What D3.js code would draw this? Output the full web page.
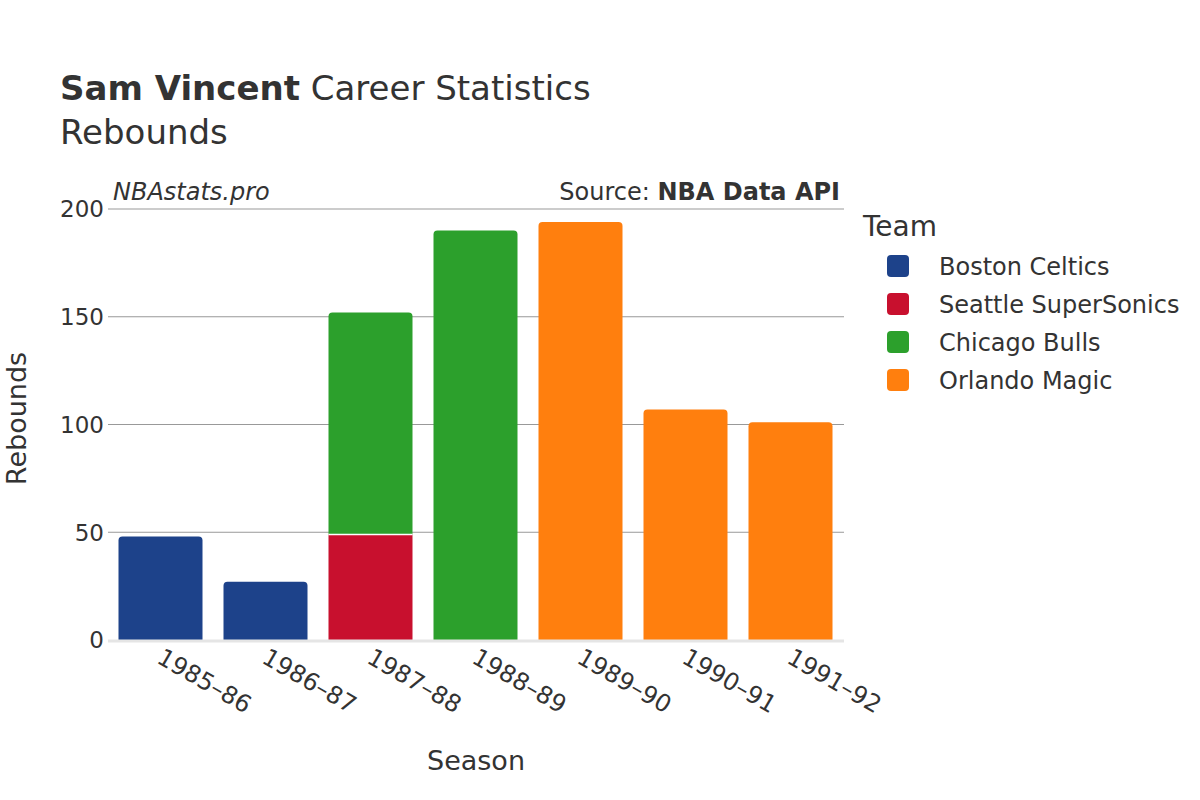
<!DOCTYPE html>
<html lang="en">
<head>
  <meta charset="UTF-8">
  <title>Sam Vincent Rebounds</title>
  <script src="https://d3js.org/d3.v7.min.js"></script>
  <style>
    body{margin: 0; background: white;}
    svg{font-family: "DejaVu Sans", sans-serif;}
  </style>
</head>
<body>
<div id="chart"></div>
<script>
  // DATA
  const seasons = ["1985-86", "1986-87", "1987-88", "1988-89", "1989-90", "1990-91", "1991-92"];
  const teams = ["Boston Celtics", "Seattle SuperSonics", "Chicago Bulls", "Orlando Magic"];
  const teamColors = ["#1d428a", "#c8102e", "#2ca02c", "#ff7f0e"];
  const bostonCeltics = [48, 27, 0, 0, 0, 0, 0];
  const seattleSuperSonics = [0, 0, 49, 0, 0, 0, 0];
  const chicagoBulls = [0, 0, 103, 190, 0, 0, 0];
  const orlandoMagic = [0, 0, 0, 0, 194, 107, 101];
  const yTicks = [0, 50, 100, 150, 200];

  const series = [bostonCeltics, seattleSuperSonics, chicagoBulls, orlandoMagic];

  // CONSTANTS
  const width = 1200, height = 800;
  const plot = {left: 108, right: 843, top: 209, bottom: 640};
  const textColor = "#333";

  const svg = d3.select("#chart").append("svg")
    .attr("width", width)
    .attr("height", height);

  const x = d3.scaleBand().domain(seasons).range([plot.left, plot.right]).paddingInner(0.2).paddingOuter(0.1);
  const y = d3.scaleLinear().domain([0, 200]).range([plot.bottom, plot.top]);

  // GRID
  svg.append("g").selectAll("line")
    .data(yTicks.filter(d => d > 0))
    .join("line")
    .attr("x1", plot.left).attr("x2", plot.right + 1)
    .attr("y1", d => y(d)).attr("y2", d => y(d))
    .attr("stroke", "#999").attr("stroke-width", 1);

  // STACK
  const rows = seasons.map((s, i) => {
    const r = {season: s};
    teams.forEach((t, j) => r[t] = series[j][i]);
    return r;
  });
  const stacked = d3.stack().keys(teams)(rows);

  // top segment per season, gets the rounded corners
  const topKey = seasons.map((s, i) => {
    let k = null;
    teams.forEach((t, j) => { if (series[j][i] > 0) k = t; });
    return k;
  });

  const r = 4;
  function barPath(x0, w, yTop, yBot, rounded) {
    if (!rounded) return `M${x0},${yBot}V${yTop}H${x0 + w}V${yBot}Z`;
    return `M${x0},${yBot}V${yTop + r}Q${x0},${yTop} ${x0 + r},${yTop}H${x0 + w - r}Q${x0 + w},${yTop} ${x0 + w},${yTop + r}V${yBot}Z`;
  }

  stacked.forEach((layer, j) => {
    svg.append("g")
      .selectAll("path")
      .data(layer.map((d, i) => ({d, i})).filter(o => o.d[1] - o.d[0] > 0))
      .join("path")
      .attr("fill", teamColors[j])
      .attr("d", o => barPath(x(seasons[o.i]), x.bandwidth(), y(o.d[1]), y(o.d[0]), topKey[o.i] === teams[j]));
  });

  // separators between stacked segments
  stacked.forEach((layer, j) => {
    svg.append("g").selectAll("line")
      .data(layer.map((d, i) => ({d, i})).filter(o => o.d[1] - o.d[0] > 0 && o.d[0] > 0))
      .join("line")
      .attr("x1", o => x(seasons[o.i])).attr("x2", o => x(seasons[o.i]) + x.bandwidth())
      .attr("y1", o => y(o.d[0])).attr("y2", o => y(o.d[0]))
      .attr("stroke", "white").attr("stroke-width", 1.5);
  });

  // zero line
  svg.append("line")
    .attr("x1", plot.left).attr("x2", plot.right + 1)
    .attr("y1", y(0) + 1).attr("y2", y(0) + 1)
    .attr("stroke", "#e5e5e5").attr("stroke-width", 3);

  // Y AXIS LABELS
  svg.append("g").selectAll("text")
    .data(yTicks)
    .join("text")
    .attr("x", plot.left - 4)
    .attr("y", d => y(d))
    .attr("dy", "0.36em")
    .attr("text-anchor", "end")
    .attr("font-size", 23)
    .attr("fill", textColor)
    .text(d => d);

  // X AXIS LABELS
  svg.append("g").selectAll("text")
    .data(seasons)
    .join("text")
    .attr("transform", d => `translate(${x(d) + x.bandwidth() / 2 - 5},${plot.bottom + 22}) rotate(30)`)
    .attr("font-size", 24)
    .attr("fill", textColor)
    .text(d => d.replace("-", "–"));

  // AXIS TITLES
  svg.append("text")
    .attr("x", 476).attr("y", 770)
    .attr("text-anchor", "middle").attr("font-size", 27).attr("fill", textColor)
    .text("Season");
  svg.append("text")
    .attr("transform", `translate(26,${(plot.top + plot.bottom) / 2 - 6}) rotate(-90)`)
    .attr("text-anchor", "middle").attr("font-size", 27).attr("fill", textColor)
    .text("Rebounds");

  // TITLE
  const title = svg.append("text").attr("x", 60).attr("y", 100).attr("font-size", 34).attr("fill", textColor);
  title.append("tspan").attr("font-weight", "bold").text("Sam Vincent");
  title.append("tspan").text(" Career Statistics");
  svg.append("text").attr("x", 60).attr("y", 144).attr("font-size", 34).attr("fill", textColor).text("Rebounds");

  // ANNOTATIONS
  svg.append("text").attr("x", 113).attr("y", 200).attr("font-size", 24).attr("font-style", "italic")
    .attr("fill", textColor).text("NBAstats.pro");
  const src = svg.append("text").attr("x", 840).attr("y", 200).attr("text-anchor", "end")
    .attr("font-size", 24).attr("fill", textColor);
  src.append("tspan").text("Source: ");
  src.append("tspan").attr("font-weight", "bold").text("NBA Data API");

  // LEGEND
  const legend = svg.append("g").attr("transform", "translate(862,0)");
  legend.append("text").attr("x", 1).attr("y", 236).attr("font-size", 28).attr("fill", textColor).text("Team");
  const items = legend.selectAll("g.item")
    .data(teams)
    .join("g")
    .attr("transform", (d, i) => `translate(0,${266 + i * 38})`);
  items.append("rect")
    .attr("x", 25).attr("y", -11).attr("width", 22).attr("height", 22).attr("rx", 4)
    .attr("fill", (d, i) => teamColors[i]);
  items.append("text")
    .attr("x", 77).attr("y", 0).attr("dy", "0.36em")
    .attr("font-size", 24).attr("fill", textColor)
    .text(d => d);
</script>
</body>
</html>
